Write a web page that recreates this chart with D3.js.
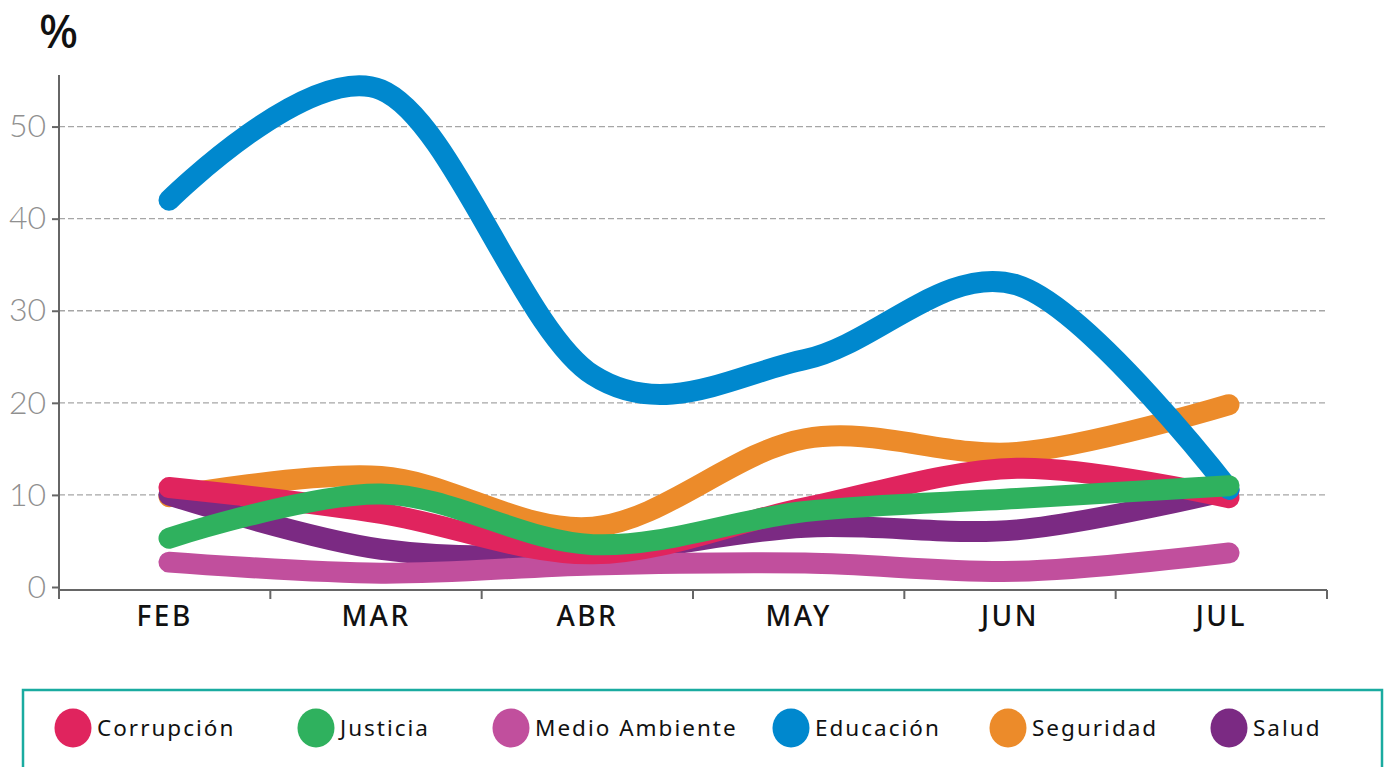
<!DOCTYPE html>
<html>
<head>
<meta charset="utf-8">
<script src="https://cdn.jsdelivr.net/npm/d3@7"></script>
<style>
  body { margin: 0; background: #fff; }
  svg { display: block; }
</style>
</head>
<body>
<div class="canvas"></div>
<script>
// months on the x axis
const months = ['FEB', 'MAR', 'ABR', 'MAY', 'JUN', 'JUL'];
const yTicks = [0, 10, 20, 30, 40, 50];

// series values (%)
const corrupcion    = [10.8, 8.0, 3.6, 8.6, 12.9, 9.7];
const justicia      = [5.3, 10.1, 4.6, 8.2, 9.6, 11.0];
const medioAmbiente = [2.7, 1.5, 2.4, 2.6, 1.7, 3.7];
const educacion     = [42.0, 54.0, 23.0, 24.7, 32.8, 10.6];
const seguridad     = [9.8, 12.0, 6.5, 16.1, 14.6, 19.8];
const salud         = [10.0, 4.1, 3.7, 6.5, 6.2, 10.5];

const legendNames = ['Corrupción', 'Justicia', 'Medio Ambiente', 'Educación', 'Seguridad', 'Salud'];
const colours = ['#e0245e', '#2fb15e', '#c14f9d', '#0088ce', '#ec8b2a', '#7b2a83'];
const seriesValues = [corrupcion, justicia, medioAmbiente, educacion, seguridad, salud];
// which series gets painted first (bottom) to last (top)
const drawOrder = [4, 5, 2, 0, 3, 1];

const width = 1386, height = 767;

const svg = d3.select('.canvas')
   .append('svg')
   .attr('width', width)
   .attr('height', height);

const y = d3.scaleLinear().domain([0, 55.6]).range([587, 75]);
const xBand = d3.scaleBand().domain(months).range([59, 1327]);
const x = d3.scalePoint().domain(months).range([169, 1229]);

// grid
svg.append('g')
   .selectAll('line')
   .data(yTicks.filter(d => d > 0))
   .enter()
   .append('line')
      .attr('x1', 59)
      .attr('x2', 1327)
      .attr('y1', d => y(d))
      .attr('y2', d => y(d))
      .attr('stroke', '#a6a6a6')
      .attr('stroke-width', 1.3)
      .attr('stroke-dasharray', '6,3');

// y axis
const yAxisGroup = svg.append('g')
   .attr('transform', 'translate(59, 0)');
yAxisGroup.call(d3.axisLeft(y).tickValues(yTicks).tickSize(7).tickPadding(6));
yAxisGroup.select('.domain').attr('d', `M-0,${y(55.6)}V${y(0) + 4}`);
yAxisGroup.selectAll('path, line').attr('stroke', '#666').attr('stroke-width', 2);
yAxisGroup.selectAll('text')
   .attr('fill', '#909090')
   .style('font-family', 'Lato, sans-serif')
   .style('font-weight', 300)
   .style('font-size', '32px');

// x axis
const xAxisGroup = svg.append('g')
   .attr('transform', 'translate(0, 590)');
xAxisGroup.append('line')
   .attr('x1', 59).attr('x2', 1327)
   .attr('y1', 0).attr('y2', 0)
   .attr('stroke', '#666').attr('stroke-width', 2);
xAxisGroup.selectAll('.tick')
   .data(months.map(m => xBand(m)).concat([xBand.range()[1]]))
   .enter()
   .append('line')
      .attr('x1', d => d).attr('x2', d => d)
      .attr('y1', 0).attr('y2', 9)
      .attr('stroke', '#666').attr('stroke-width', 2);
xAxisGroup.selectAll('.label')
   .data(months)
   .enter()
   .append('text')
      .attr('x', d => xBand(d) + xBand.bandwidth() / 2)
      .attr('y', 36)
      .attr('text-anchor', 'middle')
      .attr('fill', '#111')
      .style('font-family', '"Noto Sans", sans-serif')
      .style('font-weight', 500)
      .style('font-size', '28px')
      .style('letter-spacing', '2.5px')
      .text(d => d);

// unit label
svg.append('text')
   .attr('x', 39)
   .attr('y', 48)
   .attr('fill', '#111')
   .style('font-family', '"Noto Sans", sans-serif')
   .style('font-weight', 500)
   .style('font-size', '46px')
   .text('%');

const line = d3.line()
   .x((d, i) => x(months[i]))
   .y(d => y(d))
   .curve(d3.curveCardinal.tension(0));

drawOrder.forEach(k => {
   svg.append('path')
      .datum(seriesValues[k])
      .attr('fill', 'none')
      .attr('stroke', colours[k])
      .attr('stroke-width', 21)
      .attr('stroke-linecap', 'round')
      .attr('stroke-linejoin', 'round')
      .attr('d', line);
});

// legend
svg.append('rect')
   .attr('x', 23)
   .attr('y', 690)
   .attr('width', 1359)
   .attr('height', 100)
   .attr('fill', 'none')
   .attr('stroke', '#1aaba0')
   .attr('stroke-width', 2.5);

const legendX = [73, 316, 511, 791, 1008, 1229];
const legend = svg.selectAll('.legend')
   .data(legendNames)
   .enter()
   .append('g')
   .attr('class', 'legend')
   .attr('transform', (d, i) => `translate(${legendX[i]}, 728)`);

legend.append('ellipse')
   .attr('rx', 18.5)
   .attr('ry', 19.5)
   .attr('fill', (d, i) => colours[i]);

legend.append('text')
   .attr('x', 24)
   .attr('y', 8)
   .attr('fill', '#111')
   .style('font-family', '"Noto Sans", sans-serif')
   .style('font-size', '22.5px')
   .style('letter-spacing', '2px')
   .text(d => d);
</script>
</body>
</html>
